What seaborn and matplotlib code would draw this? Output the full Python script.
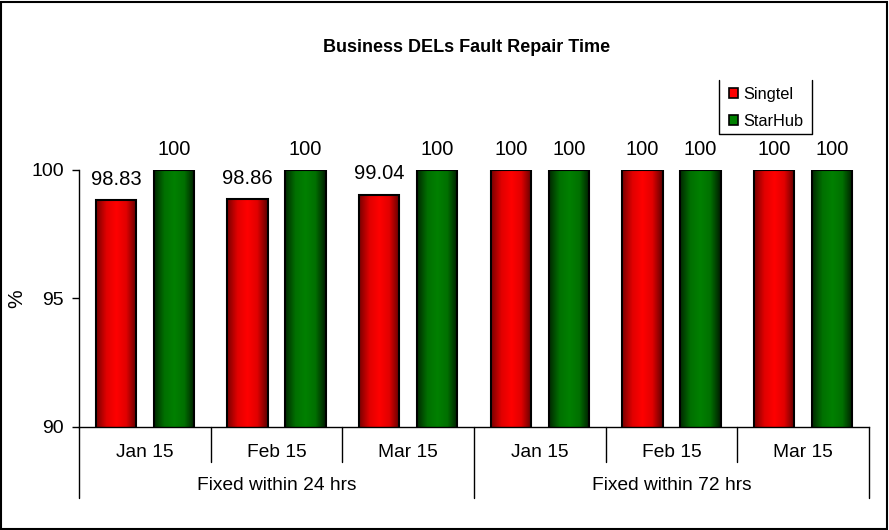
import numpy as np
import pandas as pd
import matplotlib
matplotlib.use("Agg")
import matplotlib.pyplot as plt
import matplotlib.patches as mpatches
import matplotlib.colors as mcolors
import seaborn as sns

# data
groups = ["Fixed within 24 hrs", "Fixed within 24 hrs", "Fixed within 24 hrs",
          "Fixed within 72 hrs", "Fixed within 72 hrs", "Fixed within 72 hrs"]
months = ["Jan 15", "Feb 15", "Mar 15", "Jan 15", "Feb 15", "Mar 15"]
singtel = [98.83, 98.86, 99.04, 100, 100, 100]
starhub = [100, 100, 100, 100, 100, 100]
operators = ["Singtel", "StarHub"]
title = "Business DELs Fault Repair Time"
y_ticks = [90, 95, 100]

# long-form table for seaborn, one unique key per category slot
keys = [f"{g}|{m}" for g, m in zip(groups, months)]
df = pd.DataFrame({
    "key": keys * 2,
    "operator": ["Singtel"] * 6 + ["StarHub"] * 6,
    "value": singtel + starhub,
})

sns.set_theme(style="white")
plt.rcParams["font.family"] = ["Liberation Sans", "DejaVu Sans"]
plt.rcParams["text.color"] = "black"
plt.rcParams["axes.labelcolor"] = "black"
plt.rcParams["xtick.color"] = "black"
plt.rcParams["ytick.color"] = "black"

W, H = 889, 530
fig = plt.figure(figsize=(W / 100, H / 100), dpi=100)
ax = fig.add_axes([79 / W, 1 - 427 / H, 790 / W, 257 / H])

palette = {"Singtel": "#ff0000", "StarHub": "#008000"}
sns.barplot(data=df, x="key", y="value", hue="operator", hue_order=operators,
            order=keys, palette=palette, width=0.88, gap=0.3,
            edgecolor="black", linewidth=1.5, legend=False, ax=ax)

# gradient fill for each bar (dark edges, bright centre)
grad = {
    "Singtel": mcolors.LinearSegmentedColormap.from_list(
        "r", ["#7a0000", "#e00000", "#ff0000", "#e00000", "#600000"]),
    "StarHub": mcolors.LinearSegmentedColormap.from_list(
        "g", ["#002a00", "#007000", "#008000", "#007000", "#001c00"]),
}
ramp = np.linspace(0, 1, 64).reshape(1, -1)
bars = [p for p in ax.patches if isinstance(p, mpatches.Rectangle)]
for i, p in enumerate(bars):
    op = operators[i // 6]
    x0, w, h = p.get_x(), p.get_width(), p.get_height()
    p.set_facecolor("none")
    p.set_zorder(3)
    img = ax.imshow(ramp, cmap=grad[op], aspect="auto", zorder=2,
                    extent=(x0, x0 + w, 90, h), interpolation="bilinear")
    img.set_clip_path(p)
    ax.annotate(f"{h:g}", (x0 + w / 2, h), xytext=(0, 15), textcoords="offset points",
                ha="center", va="center", fontsize=14.5, color="black",
                annotation_clip=False)

ax.set_xlim(-0.5, 5.5)
ax.set_ylim(90, 100)
ax.set_yticks(y_ticks)
ax.tick_params(axis="y", left=True, length=5, width=1, color="black",
               labelsize=14, pad=6)
ax.set_ylabel("%", fontsize=15)
ax.yaxis.set_label_coords(-(79 - 26) / 790, 0.5)

ax.set_xticks(range(6))
ax.set_xticklabels(months, fontsize=13.8)
ax.tick_params(axis="x", bottom=False, length=0, pad=12)
ax.set_xlabel("")

for s in ["top", "right"]:
    ax.spines[s].set_visible(False)
for s in ["left", "bottom"]:
    ax.spines[s].set_color("black")
    ax.spines[s].set_linewidth(1)

# two-level category separators and group labels
tr = ax.get_xaxis_transform()
for xs in np.arange(-0.5, 6, 1):
    depth = 71 / 257 if xs in (-0.5, 2.5, 5.5) else 35 / 257
    ax.plot([xs, xs], [0, -depth], transform=tr, color="black", lw=1, clip_on=False)
for gx, g in [(1, groups[0]), (4, groups[3])]:
    ax.text(gx, -59 / 257, g, transform=tr, ha="center", va="center", fontsize=13.8)

fig.text(467 / W, 1 - 47 / H, title, ha="center", va="center",
         fontsize=13, fontweight="bold")

# legend: open-topped box like the reference
handles = [mpatches.Patch(facecolor=palette[o], edgecolor="black", lw=1.2, label=o)
           for o in operators]
fig.legend(handles=handles, loc="upper left", bbox_to_anchor=(722 / W, 1 - 80 / H),
           frameon=False, fontsize=11.8, handlelength=0.6, handleheight=0.6,
           handletextpad=0.3, labelspacing=0.75, borderaxespad=0)
lx0, lx1, ly0, ly1 = 719 / W, 812 / W, 1 - 134 / H, 1 - 80 / H
fig.add_artist(plt.Line2D([lx0, lx0, lx1, lx1], [ly1, ly0, ly0, ly1],
                          transform=fig.transFigure, color="black", lw=1))

# outer chart border
fig.add_artist(mpatches.Rectangle((0.5 / W, 1.5 / H), 886.5 / W, 527 / H,
                                  transform=fig.transFigure, fill=False,
                                  edgecolor="black", lw=1.5))

fig.savefig("out.png", dpi=100)
